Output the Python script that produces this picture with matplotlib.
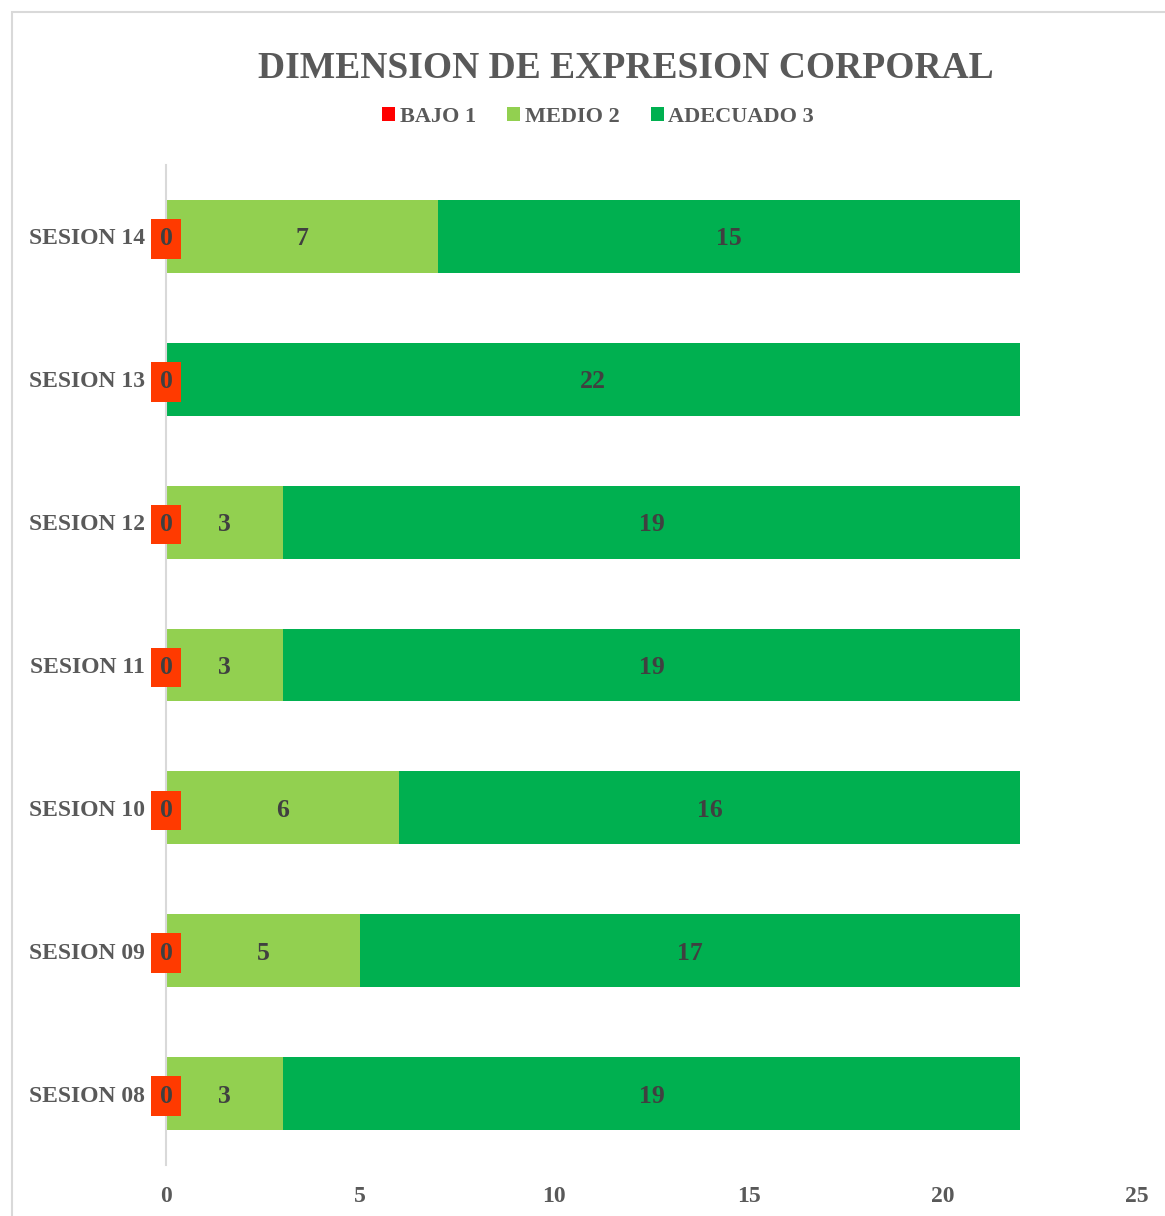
import matplotlib
matplotlib.use("Agg")
from matplotlib import pyplot as plt
from matplotlib.patches import Rectangle
import numpy as np

# Data (bottom to top)
sesiones = ["SESION 08", "SESION 09", "SESION 10", "SESION 11",
            "SESION 12", "SESION 13", "SESION 14"]
bajo = [0, 0, 0, 0, 0, 0, 0]
medio = [3, 5, 6, 3, 3, 0, 7]
adecuado = [19, 17, 16, 19, 19, 22, 15]
series_names = ["BAJO 1", "MEDIO 2", "ADECUADO 3"]
series_colors = ["#FF0000", "#92D050", "#00B050"]
xticks = [0, 5, 10, 15, 20, 25]

plt.rcParams["font.family"] = ["Liberation Serif", "DejaVu Serif"]
plt.rcParams["font.weight"] = "bold"
gray = "#595959"
dark = "#404040"

W, H = 1165, 1216
fig = plt.figure(figsize=(W / 100, H / 100), dpi=100)

# chart border (light gray, runs off the right/bottom edge)
fig.patches.append(Rectangle((12 / W, -0.1), 1.2, (H - 12) / H + 0.1,
                             transform=fig.transFigure, fill=False,
                             edgecolor="#D9D9D9", linewidth=1.5))

ax = fig.add_axes([166 / W, (H - 1165) / H, (1137 - 166) / W, (1165 - 165) / H])

y = np.arange(len(sesiones))
h = 0.51
left = np.zeros(len(sesiones))
bars = []
for vals, name, col in zip([bajo, medio, adecuado], series_names, series_colors):
    b = ax.barh(y, vals, height=h, left=left, color=col, label=name)
    bars.append(b)
    for yi, v, l in zip(y, vals, left):
        if name == "BAJO 1":
            ax.text(l + v / 2, yi, str(v), ha="center", va="center_baseline",
                    fontsize=18.5, color=dark, fontweight="bold",
                    bbox=dict(boxstyle="square,pad=0.32", facecolor="#FF3A00",
                              edgecolor="none"))
        elif v > 0:
            ax.text(l + v / 2, yi, str(v), ha="center", va="center_baseline",
                    fontsize=18.5, color=dark, fontweight="bold")
    left = left + np.array(vals)

ax.set_xlim(0, 25)
ax.set_ylim(-0.5, len(sesiones) - 0.5)
ax.set_xticks(xticks)
ax.set_yticks(y)
ax.set_yticklabels(sesiones)
ax.tick_params(axis="both", length=0, labelsize=17, colors=gray)
ax.tick_params(axis="x", pad=15)
ax.tick_params(axis="y", pad=15)
for lab in ax.get_xticklabels() + ax.get_yticklabels():
    lab.set_fontweight("bold")
for s in ["top", "right", "bottom"]:
    ax.spines[s].set_visible(False)
ax.spines["left"].set_color("#D9D9D9")
ax.spines["left"].set_linewidth(1.5)

fig.text(626 / W, 1 - 68 / H, "DIMENSION DE EXPRESION CORPORAL",
         ha="center", va="center", fontsize=27, fontweight="bold", color=gray)

fig.legend(handles=bars, labels=series_names, loc="center",
           bbox_to_anchor=(598 / W, 1 - 117 / H), ncol=3, frameon=False,
           handlelength=0.6, handleheight=0.6, handletextpad=0.2,
           columnspacing=1.4, labelcolor=gray,
           prop={"weight": "bold", "size": 16})

fig.savefig("out.png", dpi=100)
